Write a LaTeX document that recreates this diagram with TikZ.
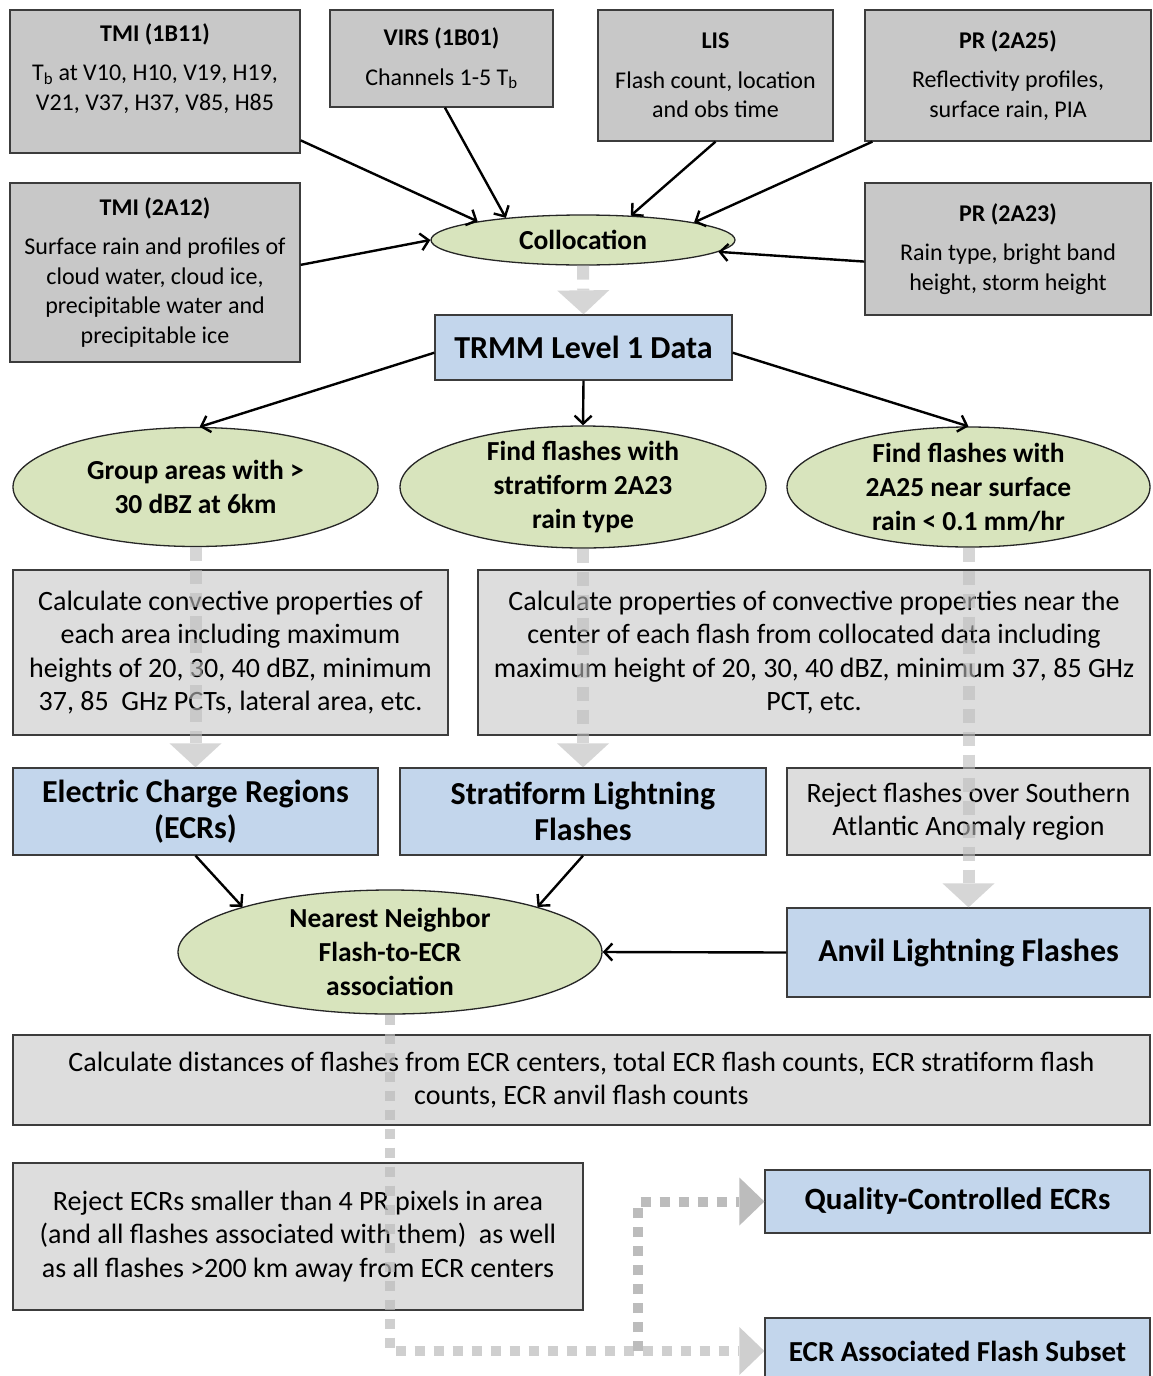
\documentclass[tikz,border=0pt]{standalone}
\usepackage{fontspec}
\setmainfont{Carlito}
\usetikzlibrary{shapes,arrows.meta}
\definecolor{srcgray}{RGB}{200,200,200}
\definecolor{procgray}{RGB}{221,221,221}
\definecolor{resblue}{RGB}{195,214,236}
\definecolor{stepgreen}{RGB}{216,228,189}
\definecolor{edgegray}{RGB}{60,60,60}
\definecolor{flowgray}{RGB}{188,188,188}
\newcommand{\fsz}[2]{\fontsize{#1}{#2}\selectfont}

\begin{document}
\begin{tikzpicture}[x=1pt,y=-1pt,
	srcbox/.style={rectangle,draw=edgegray,line width=1.3pt,fill=srcgray,align=center,inner sep=0pt,font=\fsz{24}{29.5}},
	procbox/.style={rectangle,draw=edgegray,line width=1.3pt,fill=procgray,align=center,inner sep=0pt,font=\fsz{28}{33.5}},
	resbox/.style={rectangle,draw=edgegray,line width=1.3pt,fill=resblue,align=center,inner sep=0pt,font=\bfseries\fsz{32}{36}},
	stepell/.style={ellipse,draw=black!85,line width=1.3pt,fill=stepgreen,align=center,inner xsep=0pt,inner ysep=-24pt,font=\bfseries\fsz{27.5}{34}},
	arr/.style={line width=2.4pt,-{Straight Barb[length=8pt,width=17pt]}},
	flow/.style={flowgray,opacity=.6,line width=12pt,dash pattern=on 14pt off 9pt,-{Triangle[width=52pt,length=24pt,line width=0pt]}},
	dots/.style={flowgray,line width=10pt,dash pattern=on 10pt off 9pt,-{Triangle[width=48pt,length=25pt,line width=0pt]}}]

	% page
	\fill[white] (0,0) rectangle (1152,1376);
	\useasboundingbox (0,0) rectangle (1152,1376);

	% draw input products
	\node[srcbox,minimum width=290pt,minimum height=143pt] (tmiA) at (155,81.5) {\textbf{TMI (1B11)}\\[10pt] T\textsubscript{b} at V10, H10, V19, H19,\\ V21, V37, H37, V85, H85\\ \mbox{}};
	\node[srcbox,minimum width=223pt,minimum height=97pt] (virs) at (441.5,58.5) {\textbf{VIRS (1B01)}\\[10pt] Channels 1-5 T\textsubscript{b}};
	\node[srcbox,minimum width=235pt,minimum height=131pt] (lis) at (715.5,75.5) {\textbf{LIS}\\[10pt] Flash count, location\\ and obs time};
	\node[srcbox,minimum width=286pt,minimum height=131pt] (prA) at (1008,75.5) {\textbf{PR (2A25)}\\[10pt] Reflectivity profiles,\\ surface rain, PIA};
	\node[srcbox,minimum width=290pt,minimum height=179pt] (tmiB) at (155,272.5) {\textbf{TMI (2A12)}\\[10pt] Surface rain and profiles of\\ cloud water, cloud ice,\\ precipitable water and\\ precipitable ice};
	\node[srcbox,minimum width=286pt,minimum height=132pt] (prB) at (1008,249) {\textbf{PR (2A23)}\\[10pt] Rain type, bright band\\ height, storm height};

	% draw steps
	\node[stepell,minimum width=304pt,minimum height=50pt] (coll) at (583,240) {Collocation};
	\node[resbox,minimum width=297pt,minimum height=65pt] (trmm) at (583.5,347.5) {TRMM Level 1 Data};
	\node[stepell,minimum width=365pt,minimum height=119pt] (grp) at (195.5,487) {Group areas with >\\ 30 dBZ at 6km};
	\node[stepell,minimum width=366pt,minimum height=122pt] (strat) at (583,487) {Find flashes with\\ stratiform 2A23\\ rain type};
	\node[stepell,minimum width=363pt,minimum height=120pt] (lowr) at (968.5,487) {Find flashes with\\ 2A25 near surface\\ rain < 0.1 mm/hr};

	\node[procbox,minimum width=435pt,minimum height=165pt] (convc) at (230.5,652.5) {Calculate convective properties of\\ each area including maximum\\ heights of 20, 30, 40 dBZ, minimum\\ 37, 85\ \ GHz PCTs, lateral area, etc.};
	\node[procbox,minimum width=672pt,minimum height=165pt] (propc) at (814,652.5) {Calculate properties of convective properties near the\\ center of each flash from collocated data including\\ maximum height of 20, 30, 40 dBZ, minimum 37, 85 GHz\\ PCT, etc.};

	\node[resbox,minimum width=365pt,minimum height=87pt] (ecr) at (195.5,811.5) {Electric Charge Regions\\ (ECRs)};
	\node[resbox,minimum width=366pt,minimum height=87pt] (strl) at (583,811.5) {Stratiform Lightning\\ Flashes};
	\node[procbox,minimum width=363pt,minimum height=87pt] (rejsaa) at (968.5,811.5) {Reject flashes over Southern\\ Atlantic Anomaly region};
	\node[resbox,minimum width=363pt,minimum height=89pt] (anvil) at (968.5,952.5) {Anvil Lightning Flashes};
	\node[stepell,minimum width=424pt,minimum height=124pt] (nn) at (390,952) {Nearest Neighbor\\ Flash-to-ECR\\ association};

	\node[procbox,minimum width=1137pt,minimum height=90pt] (dist) at (581.5,1080) {Calculate distances of flashes from ECR centers, total ECR flash counts, ECR stratiform flash\\ counts, ECR anvil flash counts};
	\node[procbox,minimum width=570pt,minimum height=147pt] (rejecr) at (298,1236.5) {Reject ECRs smaller than 4 PR pixels in area\\ (and all flashes associated with them)\ \ as well\\ as all flashes >200 km away from ECR centers};
	\node[resbox,font=\bfseries\fsz{31}{34},minimum width=385pt,minimum height=63pt] (qc) at (957.5,1201.5) {Quality-Controlled ECRs};
	\node[resbox,font=\bfseries\fsz{29}{34},minimum width=385pt,minimum height=66pt] (subset) at (957.5,1351) {ECR Associated Flash Subset};

	% draw arrows
	\draw[arr] (tmiA.-22) -- (coll.170);
	\draw[arr] (virs.-86) -- (coll.164);
	\draw[arr] (lis.south) -- (coll.27);
	\draw[arr] (prA.206) -- (coll.9);
	\draw[arr] (tmiB.3) -- (coll.west);
	\draw[arr] (prB.185) -- (coll.-5);

	\draw[arr] (trmm.182) -- (grp.86);
	\draw[arr] (trmm.south) -- (strat.north);
	\draw[arr] (trmm.-2) -- (lowr.north);

	\draw[arr] (ecr.south) -- (nn.163);
	\draw[arr] (strl.south) -- (nn.17);
	\draw[arr] (anvil.west) -- (nn.east);

	% draw gray flows
	\draw[flow] (coll.south) -- (trmm.north);
	\draw[flow] (grp.south) -- (ecr.north);
	\draw[flow] (strat.south) -- (strl.north);
	\draw[flow] (lowr.south) -- (anvil.north);

	\coordinate (fork) at (638,1351);
	\draw[dots,opacity=.7] (nn.south) |- (subset.west);
	\draw[dots] (fork) |- (qc.west);
\end{tikzpicture}
\end{document}
